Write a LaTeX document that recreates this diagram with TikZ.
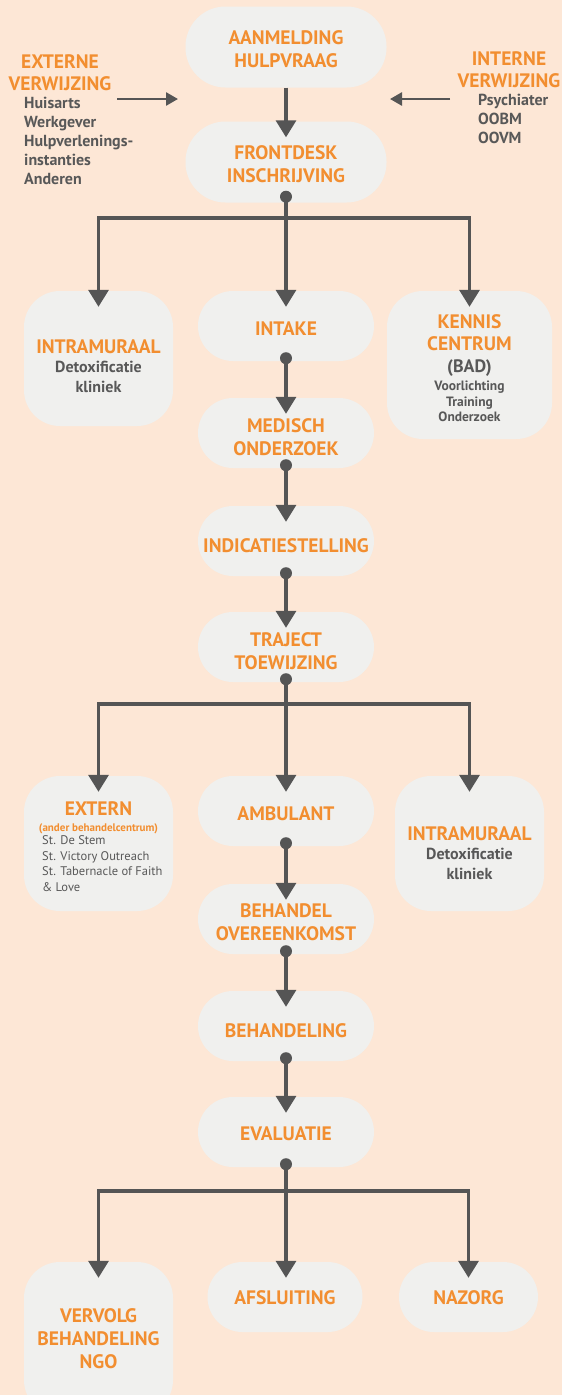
\documentclass[tikz,border=0pt]{standalone}
\usepackage{fontspec}
\setmainfont{PT Sans}
\usetikzlibrary{arrows.meta,positioning}
\definecolor{bgpeach}{RGB}{253,231,214}
\definecolor{boxgrey}{RGB}{240,240,238}
\definecolor{flowgrey}{RGB}{85,85,85}
\definecolor{txtorange}{RGB}{242,142,48}
\definecolor{txtgrey}{RGB}{88,88,88}
\newcommand\Grey[1]{{\color{txtgrey}\fontsize{16}{18}\selectfont #1}}
\newcommand\Small[1]{{\color{txtgrey}\fontsize{13.5}{15}\selectfont #1}}
\newcommand\Up[1]{\rule{0pt}{#1}}

\begin{document}
\begin{tikzpicture}[x=1pt,y=-1pt]
	\tikzset{Box/.style =
		{fill = boxgrey,
			align = center,
			inner sep = 0pt,
			text = txtorange,
			font = \bfseries\fontsize{19.5}{23}\selectfont},
		Pill/.style = {Box, rounded corners = 35pt, minimum width = 176pt, minimum height = 70pt},
		BigPill/.style = {Box, rounded corners = 40pt, minimum width = 201pt, minimum height = 81pt},
		Block/.style = {Box, rounded corners = 36pt, minimum width = 149pt, minimum height = 135pt},
		Text/.style = {align = center, inner sep = 0pt, text = txtorange,
			font = \bfseries\fontsize{19.5}{22}\selectfont},
		List/.style = {align = left, inner sep = 0pt, text = txtgrey, anchor = west,
			font = \bfseries\fontsize{16}{19}\selectfont},
		Dot/.style = {circle, fill = flowgrey, inner sep = 0pt, minimum size = 12pt},
		Flow/.style = {draw = flowgrey, line width = 3.4pt, -{Triangle[width=20pt,length=17pt]}},
		Side/.style = {draw = flowgrey, line width = 2.6pt, -{Triangle[width=13pt,length=12pt]}}}
	\useasboundingbox (0,0) rectangle (562,1395);
	\fill[bgpeach] (0,0) rectangle (562,1395);
	% intake
	\node[BigPill] (aanmelding) at (286,47) {\Up{17.5pt}AANMELDING\\HULPVRAAG};
	\node[BigPill] (frontdesk) at (286,162) {\Up{17.5pt}FRONTDESK\\INSCHRIJVING};
	\node[Text] (externe) at (60,72.5) {EXTERNE\\VERWIJZING};
	\node[List] (extlist) at (24,141) {Huisarts\\Werkgever\\Hulpverlenings-\\instanties\\Anderen};
	\node[Text] (interne) at (509,70) {INTERNE\\VERWIJZING};
	\node[List] (intlist) at (478,119) {Psychiater\\OOBM\\OOVM};
	\coordinate (extout) at (117,99); \coordinate (extin) at (178,99);
	\coordinate (intout) at (450,99); \coordinate (intin) at (390,99);
	% eerste splitsing
	\node[Block] (intra1) at (98.5,358.5) {};
	\node[Text] (intra1txt) at (98.5,366) {INTRAMURAAL\\[-2.5pt]\Grey{Detoxificatie}\\[-2.5pt]\Grey{kliniek}};
	\node[Pill] (intake) at (286,326) {\Up{20pt}INTAKE};
	\node[Block, minimum width = 165pt, minimum height = 148pt] (kennis) at (469.5,365) {};
	\node[Text] (kennistxt) at (469.5,368) {KENNIS\\CENTRUM\\[-0.5pt]{\color{txtgrey}\fontsize{18}{20}\selectfont (BAD)}\\[-4pt]\Small{Voorlichting}\\[-6pt]\Small{Training}\\[-7pt]\Small{Onderzoek}};
	\node[Pill] (medisch) at (286,433) {\Up{22pt}MEDISCH\\ONDERZOEK};
	\node[Pill] (indicatie) at (286,541) {\Up{23pt}INDICATIESTELLING};
	\node[Pill] (traject) at (286,647) {\Up{21.5pt}TRAJECT\\TOEWIJZING};
	% tweede splitsing
	\node[Block] (extern) at (98.5,843.5) {};
	\node[Text] (externtxt) at (98.5,818) {EXTERN\\[-6pt]{\fontsize{11}{12}\selectfont (ander behandelcentrum)}};
	\node[List, font = \fontsize{12.5}{15.7}\selectfont] (externlist) at (42,863.5) {St. De Stem\\St. Victory Outreach\\St. Tabernacle of Faith\\\& Love};
	\node[Pill] (ambulant) at (286,811) {\Up{19pt}AMBULANT};
	\node[Block] (intra2) at (469.5,843.5) {};
	\node[Text] (intra2txt) at (469.5,853) {INTRAMURAAL\\[-2.5pt]\Grey{Detoxificatie}\\[-2.5pt]\Grey{kliniek}};
	\node[Pill] (behandel) at (286,919) {\Up{20pt}BEHANDEL\\OVEREENKOMST};
	\node[Pill] (behandeling) at (286,1026) {\Up{24pt}BEHANDELING};
	\node[Pill] (evaluatie) at (286,1132) {\Up{18pt}EVALUATIE};
	% afronding
	\node[Block, minimum height = 154pt] (vervolg) at (98.5,1339) {VERVOLG\\BEHANDELING\\NGO};
	\node[Pill, minimum width = 155pt] (afsluiting) at (285,1297) {\Up{16pt}AFSLUITING};
	\node[Pill, minimum width = 139pt] (nazorg) at (468.5,1297) {\Up{16pt}NAZORG};
	% pijlen
	\draw[Side] (extout) -- (extin);
	\draw[Side] (intout) -- (intin);
	\draw[Flow] (aanmelding.south) -- ([yshift=-16pt]frontdesk.north);
	\node[Dot] (d1) at ([yshift=6pt]frontdesk.south) {};
	\coordinate (bar1) at (286,218);
	\draw[Flow] (d1.center) -- (bar1) -| ([yshift=-16pt]intra1.north);
	\draw[Flow] (bar1) -- ([yshift=-16pt]intake.north);
	\draw[Flow] (bar1) -| ([yshift=-16pt]kennis.north);
	\foreach \a/\b in {intake/medisch, medisch/indicatie, indicatie/traject,
		ambulant/behandel, behandel/behandeling, behandeling/evaluatie}{
		\node[Dot] (\a dot) at ([yshift=3pt]\a.south) {};
		\draw[Flow] (\a dot.center) -- ([yshift=-16pt]\b.north);}
	\node[Dot] (d2) at ([yshift=3pt]traject.south) {};
	\coordinate (bar2) at (286,704);
	\draw[Flow] (d2.center) -- (bar2) -| ([yshift=-16pt]extern.north);
	\draw[Flow] (bar2) -- ([yshift=-16pt]ambulant.north);
	\draw[Flow] (bar2) -| ([yshift=-16pt]intra2.north);
	\node[Dot] (d3) at ([yshift=3pt]evaluatie.south) {};
	\coordinate (bar3) at (286,1191);
	\draw[Flow] (d3.center) -- (bar3) -| ([yshift=-16pt]vervolg.north);
	\draw[Flow] (bar3) -- ([yshift=-16pt]afsluiting.north -| bar3);
	\draw[Flow] (bar3) -| ([yshift=-16pt]nazorg.north);
\end{tikzpicture}
\end{document}
